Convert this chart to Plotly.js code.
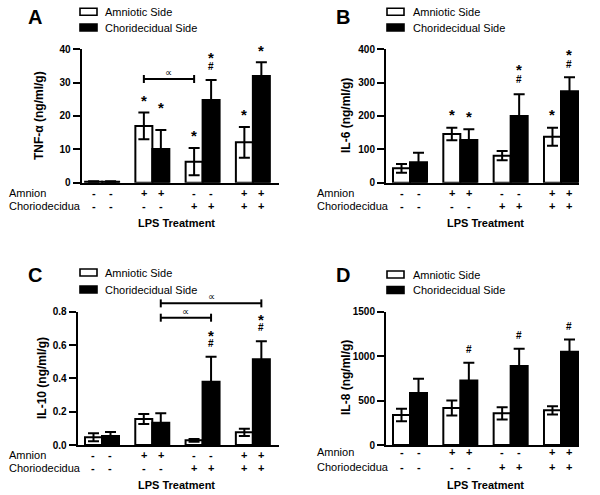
<!DOCTYPE html>
<html>
<head>
<meta charset="utf-8">
<script src="https://cdn.plot.ly/plotly-3.0.1.min.js"></script>
<style>html,body{margin:0;padding:0;background:#fff;}#chart{width:600px;height:495px;}</style>
</head>
<body>
<div id="chart"></div>
<script>
// ---------------- DATA ----------------
const groups = [0, 1, 2, 3];
const amnionSigns = ['-', '+', '-', '+'];
const choriodeciduaSigns = ['-', '-', '+', '+'];
const seriesNames = ['Amniotic Side', 'Choridecidual Side'];

const tnfAmnion = [0.3, 17.0, 6.3, 12.1];
const tnfAmnionErr = [0.1, 4.0, 4.1, 4.6];
const tnfChorio = [0.3, 10.1, 24.8, 32.0];
const tnfChorioErr = [0.1, 5.7, 6.0, 4.1];

const il6Amnion = [43, 146, 81, 138];
const il6AmnionErr = [13, 19, 14, 27];
const il6Chorio = [61, 128, 200, 274];
const il6ChorioErr = [29, 32, 65, 42];

const il10Amnion = [0.046, 0.156, 0.028, 0.076];
const il10AmnionErr = [0.024, 0.030, 0.008, 0.022];
const il10Chorio = [0.054, 0.134, 0.380, 0.514];
const il10ChorioErr = [0.024, 0.056, 0.150, 0.108];

const il8Amnion = [337, 416, 356, 390];
const il8AmnionErr = [70, 84, 70, 47];
const il8Chorio = [585, 725, 890, 1048];
const il8ChorioErr = [160, 200, 192, 140];

const yTitles = ['TNF-\u03b1 (ng/ml/g)', 'IL-6 (ng/ml/g)', 'IL-10 (ng/ml/g)', 'IL-8 (ng/ml/g)'];
const panelLetters = ['A', 'B', 'C', 'D'];
const yTicksA = [0, 10, 20, 30, 40];
const yTicksB = [0, 100, 200, 300, 400];
const yTicksC = [0, 0.2, 0.4, 0.6, 0.8];
const yTicksD = [0, 500, 1000, 1500];

// significance symbols: group, series (0 amnion, 1 chorio), symbol, level
const sigA = [[1,0,'*',25.7],[1,1,'*',23.8],[2,0,'*',15.3],[2,1,'*',38.7],[2,1,'#',34.7],[3,0,'*',21.6],[3,1,'*',40.7]];
const sigB = [[1,0,'*',217],[1,1,'*',209],[2,1,'*',352],[2,1,'#',310],[3,0,'*',215],[3,1,'*',397],[3,1,'#',355]];
const sigC = [[2,1,'*',0.684],[2,1,'#',0.61],[3,1,'*',0.78],[3,1,'#',0.706]];
const sigD = [[1,1,'#',1075],[2,1,'#',1236],[3,1,'#',1337]];
// brackets: [group1, series1, group2, series2, level]
const bracketA = [[1,0,2,0,31.07]];
const bracketB = [];
const bracketC = [[1,1,2,1,0.764],[1,1,3,1,0.85]];
const bracketD = [];

// ---------------- GEOMETRY ----------------
const W = 600, H = 495;
const BW = 0.338; // bar width in category units
const FONT = 'Arial, "Liberation Sans", sans-serif';

const panels = [
  {id:'', x0:81.5, x1:279, top:49.2, bottom:182.7, xr:[-0.41,3.52], yr:[0,40], ticks:yTicksA, fmt:'',
   amn:tnfAmnion, amnE:tnfAmnionErr, cho:tnfChorio, choE:tnfChorioErr, sig:sigA, br:bracketA,
   letter:[34.5,17], leg:{bx:80, tx:103.3, y1:11.8, y2:27.5}, rows:{lx:6.7, y1:192.7, y2:206}, lps:[176.7,223.3], ytitle:[39,116]},
  {id:'2', x0:386, x1:579, top:49.2, bottom:182.7, xr:[-0.477,3.358], yr:[0,400], ticks:yTicksB, fmt:'',
   amn:il6Amnion, amnE:il6AmnionErr, cho:il6Chorio, choE:il6ChorioErr, sig:sigB, br:bracketB,
   letter:[343,17], leg:{bx:387, tx:410.7, y1:11.8, y2:27.5}, rows:{lx:315, y1:192.7, y2:206}, lps:[485,223.3], ytitle:[346,116]},
  {id:'3', x0:77.7, x1:279, top:311.7, bottom:445, xr:[-0.483,3.52], yr:[0,0.8], ticks:yTicksC, fmt:'.1f',
   amn:il10Amnion, amnE:il10AmnionErr, cho:il10Chorio, choE:il10ChorioErr, sig:sigC, br:bracketC,
   letter:[34.5,275], leg:{bx:80, tx:103.3, y1:272.5, y2:289.5}, rows:{lx:6.7, y1:455, y2:468.3}, lps:[176.7,485], ytitle:[42,378]},
  {id:'4', x0:386, x1:579, top:311.7, bottom:445, xr:[-0.477,3.358], yr:[0,1500], ticks:yTicksD, fmt:'',
   amn:il8Amnion, amnE:il8AmnionErr, cho:il8Chorio, choE:il8ChorioErr, sig:sigD, br:bracketD,
   letter:[343,275], leg:{bx:387, tx:410.7, y1:274.5, y2:290}, rows:{lx:315, y1:451.7, y2:467.3}, lps:[485,485], ytitle:[346,378]}
];

function pxX(px){ return px / W; }
function pxY(py){ return 1 - py / H; }
function dX(p, v){ return p.x0 + (v - p.xr[0]) / (p.xr[1] - p.xr[0]) * (p.x1 - p.x0); }
function dY(p, v){ return p.bottom - (v - p.yr[0]) / (p.yr[1] - p.yr[0]) * (p.bottom - p.top); }
function barCenter(g, s){ return g + (s === 0 ? -BW/2 : BW/2); }

const traces = [];
const annotations = [];
const shapes = [];
const layout = {
  width: W, height: H, margin:{l:0,r:0,t:0,b:0}, paper_bgcolor:'#fff', plot_bgcolor:'#fff',
  showlegend:false, barmode:'overlay', font:{family:FONT, color:'#000'}
};

function txt(x, y, text, opts){
  annotations.push(Object.assign({xref:'paper', yref:'paper', x:pxX(x), y:pxY(y), text:text,
    showarrow:false, xanchor:'center', yanchor:'middle',
    font:{family:FONT, size:11, color:'#000'}}, opts || {}));
}

panels.forEach((p, k) => {
  const xa = 'x' + p.id, ya = 'y' + p.id;
  const errStyle = {type:'data', visible:true, color:'#000', thickness:2, width:5.5};
  traces.push({type:'bar', name:seriesNames[0], x:groups, y:p.amn, width:BW, offset:-BW, xaxis:xa, yaxis:ya,
    marker:{color:'#fff', line:{color:'#000', width:2}}, error_y:Object.assign({array:p.amnE}, errStyle), hoverinfo:'skip'});
  traces.push({type:'bar', name:seriesNames[1], x:groups, y:p.cho, width:BW, offset:0, xaxis:xa, yaxis:ya,
    marker:{color:'#000', line:{color:'#000', width:2}}, error_y:Object.assign({array:p.choE}, errStyle), hoverinfo:'skip'});

  layout['xaxis' + p.id] = {domain:[pxX(p.x0), pxX(p.x1)], range:p.xr, anchor:ya, showline:true, linewidth:2,
    linecolor:'#000', showticklabels:false, ticks:'', showgrid:false, zeroline:false, fixedrange:true};
  layout['yaxis' + p.id] = {domain:[pxY(p.bottom), pxY(p.top)], range:p.yr, anchor:xa, showline:true, linewidth:2,
    linecolor:'#000', ticks:'outside', ticklen:7, tickwidth:2, tickcolor:'#000', tickvals:p.ticks, tickformat:p.fmt,
    tickfont:{family:FONT, size:10, weight:'bold', color:'#000'}, showgrid:false, zeroline:false, fixedrange:true};

  // panel letter
  txt(p.letter[0], p.letter[1], panelLetters[k], {font:{family:FONT, size:20, weight:'bold', color:'#000'}});
  // legend
  shapes.push({type:'rect', xref:'paper', yref:'paper', x0:pxX(p.leg.bx), x1:pxX(p.leg.bx+17),
    y0:pxY(p.leg.y1-3.5), y1:pxY(p.leg.y1+3.5), fillcolor:'#fff', line:{color:'#000', width:1.6}});
  shapes.push({type:'rect', xref:'paper', yref:'paper', x0:pxX(p.leg.bx), x1:pxX(p.leg.bx+17),
    y0:pxY(p.leg.y2-3.5), y1:pxY(p.leg.y2+3.5), fillcolor:'#000', line:{color:'#000', width:1.6}});
  txt(p.leg.tx, p.leg.y1, seriesNames[0], {xanchor:'left'});
  txt(p.leg.tx, p.leg.y2, seriesNames[1], {xanchor:'left'});
  // y title
  txt(p.ytitle[0], p.ytitle[1], yTitles[k], {textangle:-90, font:{family:FONT, size:12, weight:'bold', color:'#000'}});
  // rows
  txt(p.rows.lx, p.rows.y1, 'Amnion', {xanchor:'left'});
  txt(p.rows.lx, p.rows.y2, 'Choriodecidua', {xanchor:'left'});
  groups.forEach((g, i) => {
    [0, 1].forEach(s => {
      const cx = dX(p, barCenter(g, s));
      txt(cx, p.rows.y1, amnionSigns[i], {font:{family:FONT, size:11, weight:'bold', color:'#000'}});
      txt(cx, p.rows.y2, choriodeciduaSigns[i], {font:{family:FONT, size:11, weight:'bold', color:'#000'}});
    });
  });
  txt(p.lps[0], p.lps[1], 'LPS Treatment', {font:{family:FONT, size:11, weight:'bold', color:'#000'}});
  // significance symbols
  p.sig.forEach(([g, s, sym, lvl]) => {
    const cx = dX(p, barCenter(g, s)), cy = dY(p, lvl);
    if (sym === '*') txt(cx, cy, '*', {yshift:-4, font:{family:FONT, size:15, weight:'bold', color:'#000'}});
    else txt(cx, cy, '#', {font:{family:FONT, size:10, weight:'bold', color:'#000'}});
  });
  // brackets
  p.br.forEach(([g1, s1, g2, s2, lvl]) => {
    const xA = dX(p, barCenter(g1, s1)), xB = dX(p, barCenter(g2, s2)), yy = dY(p, lvl);
    const ln = {color:'#000', width:2};
    shapes.push({type:'line', xref:'paper', yref:'paper', x0:pxX(xA), x1:pxX(xB), y0:pxY(yy), y1:pxY(yy), line:ln});
    shapes.push({type:'line', xref:'paper', yref:'paper', x0:pxX(xA), x1:pxX(xA), y0:pxY(yy-4), y1:pxY(yy+4), line:ln});
    shapes.push({type:'line', xref:'paper', yref:'paper', x0:pxX(xB), x1:pxX(xB), y0:pxY(yy-4), y1:pxY(yy+4), line:ln});
    txt((xA + xB) / 2, yy - 6.5, '\u221d', {font:{family:'"DejaVu Sans", sans-serif', size:10, color:'#000'}});
  });
});

layout.annotations = annotations;
layout.shapes = shapes;
Plotly.newPlot('chart', traces, layout, {staticPlot:true, displayModeBar:false});
</script>
</body>
</html>
